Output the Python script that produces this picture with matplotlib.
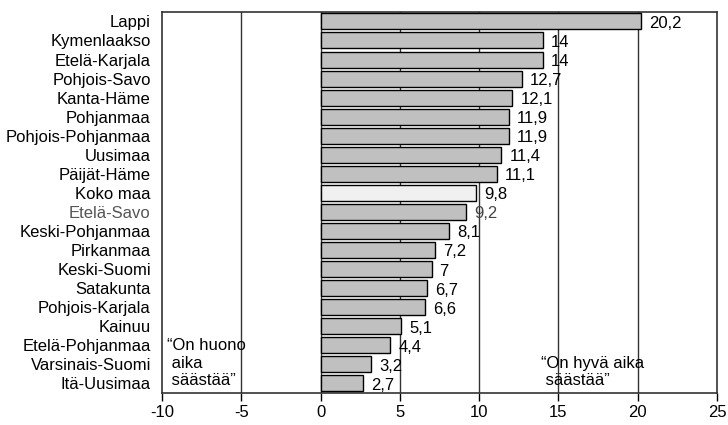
import matplotlib.pyplot as plt
from matplotlib import font_manager

# Regions and values (top to bottom)
regions = ["Lappi", "Kymenlaakso", "Etelä-Karjala", "Pohjois-Savo", "Kanta-Häme",
           "Pohjanmaa", "Pohjois-Pohjanmaa", "Uusimaa", "Päijät-Häme", "Koko maa",
           "Etelä-Savo", "Keski-Pohjanmaa", "Pirkanmaa", "Keski-Suomi", "Satakunta",
           "Pohjois-Karjala", "Kainuu", "Etelä-Pohjanmaa", "Varsinais-Suomi", "Itä-Uusimaa"]
values = [20.2, 14, 14, 12.7, 12.1, 11.9, 11.9, 11.4, 11.1, 9.8,
          9.2, 8.1, 7.2, 7, 6.7, 6.6, 5.1, 4.4, 3.2, 2.7]
x_ticks = [-10, -5, 0, 5, 10, 15, 20, 25]

names = {f.name for f in font_manager.fontManager.ttflist}
fam = ["Liberation Sans Narrow", "DejaVu Sans"] if "Liberation Sans Narrow" in names else ["Liberation Sans", "DejaVu Sans"]
plt.rcParams["font.family"] = fam
fs = 12

fig = plt.figure(figsize=(7.28, 4.25), dpi=100)
ax = fig.add_axes([0.2225, 0.0753, 0.7625, 0.8967])

y = list(range(len(regions)))
colors = ["#f0f0f0" if r == "Koko maa" else "#c0c0c0" for r in regions]
ax.barh(y, values, height=0.84, color=colors, edgecolor="black", linewidth=1.0, zorder=3)

def fmt(v):
    s = f"{v:g}"
    return s.replace(".", ",")

for yi, v, r in zip(y, values, regions):
    ax.text(v + 0.5, yi + 0.1, fmt(v), va="center", ha="left", fontsize=fs, zorder=4,
            color="#444444" if r == "Etelä-Savo" else "black")

ax.set_xlim(-10, 25)
ax.set_ylim(len(regions) - 0.5, -0.5)
ax.set_xticks(x_ticks)
ax.set_xticklabels([str(t) for t in x_ticks], fontsize=fs)
ax.set_yticks(y)
ax.set_yticklabels(regions, fontsize=fs)
for lbl, r in zip(ax.get_yticklabels(), regions):
    if r == "Etelä-Savo":
        lbl.set_color("#555555")
ax.tick_params(axis="y", length=0, pad=8)
ax.tick_params(axis="x", length=6, width=1.0, direction="out", pad=3)
for t in x_ticks[1:-1]:
    ax.axvline(t, color="#333333", linewidth=1.0, zorder=1)
for s in ax.spines.values():
    s.set_linewidth(1.2)
    s.set_color("#333333")

ax.text(-9.7, 19.25, "\u201cOn huono\n aika\n säästää\u201d", ha="left", va="bottom",
        fontsize=fs, linespacing=1.2, zorder=4)
ax.text(13.9, 19.25, "\u201cOn hyvä aika\n säästää\u201d", ha="left", va="bottom",
        fontsize=fs, linespacing=1.2, zorder=4)

fig.savefig("out.png", dpi=100)
